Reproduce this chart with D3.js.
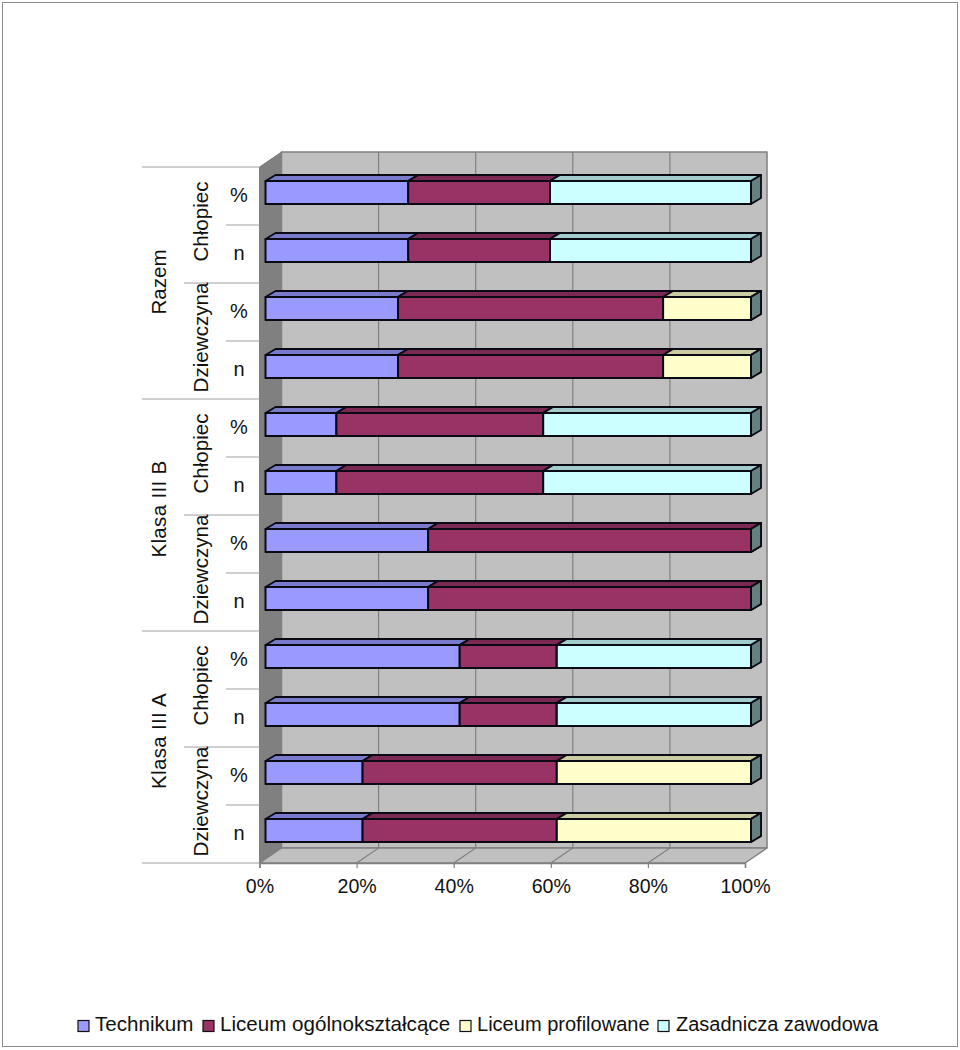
<!DOCTYPE html>
<html><head><meta charset="utf-8">
<style>html,body{margin:0;padding:0;background:#fff}svg{display:block}text{font-family:"Liberation Sans",Arial,sans-serif;fill:#111}</style>
<script src="https://cdn.jsdelivr.net/npm/d3@7/dist/d3.min.js"></script>
</head><body><svg id="c" width="960" height="1050"></svg>
<script>
// rows listed top to bottom
const measures = ["%","n","%","n","%","n","%","n","%","n","%","n"];
const genders = ["Chłopiec","Dziewczyna","Chłopiec","Dziewczyna","Chłopiec","Dziewczyna"];
const classes = ["Razem","Klasa III B","Klasa III A"];
const seriesNames = ["Technikum","Liceum ogólnokształcące","Liceum profilowane","Zasadnicza zawodowa"];
const seriesColors = ["#9999ff","#993366","#ffffcc","#ccffff"];
const topColors = ["#7a7acc","#7a2952","#cccca3","#a3cccc"];
const sideColors = ["#4d4d80","#4d1a33","#808066","#668080"];
const technikum = [29.4,29.4,27.3,27.3,14.6,14.6,33.5,33.5,40,40,20,20];
const liceumOg  = [29.2,29.2,54.6,54.6,42.6,42.6,66.5,66.5,20,20,40,40];
const liceumPr  = [0,0,18.1,18.1,0,0,0,0,0,0,40,40];
const zasadnicza= [41.4,41.4,0,0,42.8,42.8,0,0,40,40,0,0];
const xTicks = [0,20,40,60,80,100];

const svg = d3.select("#c");
const F = 20.6, FT = 19.6;
const plot = {l:259.5,r:745,t:167,b:863,dx:22,dy:-15};
const x = d3.scaleLinear().domain([0,100]).range([plot.l,plot.r]);
const y = d3.scaleBand().domain(d3.range(12)).range([plot.t,plot.b]);
const fmt = d => d+"%";

svg.append("rect").attr("x",2.5).attr("y",2.5).attr("width",955).attr("height",1044).attr("fill","#fff").attr("stroke","#8c8c8c").attr("stroke-width",1);

const poly = (pts,fill,stroke,sw) => svg.append("polygon").attr("points",pts.map(p=>p.join(",")).join(" ")).attr("fill",fill).attr("stroke",stroke).attr("stroke-width",sw).attr("stroke-linejoin","round");
const {l,r,t,b,dx,dy} = plot;
poly([[l+dx,t+dy],[r+dx,t+dy],[r+dx,b+dy],[l+dx,b+dy]],"#c0c0c0","#808080",1.5);
poly([[l,b],[l+dx,b+dy],[r+dx,b+dy],[r,b]],"#c0c0c0","#808080",1.5);
poly([[l,t],[l+dx,t+dy],[l+dx,b+dy],[l,b]],"#808080","#808080",1);

// gridlines
xTicks.slice(1,-1).forEach(v=>{
  svg.append("path").attr("fill","none").attr("stroke","#808080").attr("stroke-width",1.2)
    .attr("d",`M${x(v)},${b}L${x(v)+dx},${b+dy}L${x(v)+dx},${t+dy}`);
});

// x axis
const gx = svg.append("g").attr("transform",`translate(0,${b})`)
  .call(d3.axisBottom(x).tickValues(xTicks).tickFormat(fmt).tickSize(5).tickPadding(11));
gx.select(".domain").attr("stroke","#808080").attr("stroke-width",1.5);
gx.selectAll("line").attr("stroke","#808080").attr("stroke-width",1.2);
gx.selectAll("text").attr("font-size",FT).attr("font-family",'"Liberation Sans"').attr("fill","#111");

// bars
const bd = {dx:10,dy:-6,h:23,shift:-3.5,off:6};
const seriesValues = [technikum,liceumOg,liceumPr,zasadnicza];
d3.range(12).forEach(i=>{
  const cy = y(i)+y.bandwidth()/2+bd.shift, y0=cy-bd.h/2, y1=cy+bd.h/2;
  let cum=0;
  seriesValues.forEach((vals,s)=>{
    const x0=x(cum)+bd.off; cum+=vals[i]; const x1=x(cum)+bd.off;
    poly([[x0,y0],[x0+bd.dx,y0+bd.dy],[x1+bd.dx,y0+bd.dy],[x1,y0]],topColors[s],"#0a0a14",1.8);
    poly([[x1,y0],[x1+bd.dx,y0+bd.dy],[x1+bd.dx,y1+bd.dy],[x1,y1]],sideColors[s],"#0a0a14",1.8);
    poly([[x0,y0],[x1,y0],[x1,y1],[x0,y1]],seriesColors[s],"#0a0a14",2);
  });
});

// hierarchical category axis
const sep = (yy,x0)=>svg.append("line").attr("x1",x0).attr("x2",l).attr("y1",yy).attr("y2",yy).attr("stroke","#a0a0a0").attr("stroke-width",1.2);
d3.range(13).forEach(i=>{
  const yy = i===12? b : y(i);
  sep(yy, i%4===0?142 : i%2===0?184 : 226);
});
measures.forEach((m,i)=>{
  svg.append("text").attr("x",239).attr("y",y(i)+y.bandwidth()/2-1).attr("dy","0.36em").attr("text-anchor","middle").attr("font-size",FT+0.4).text(m);
});
const rot = (label,cx,cy,ls)=>svg.append("text").attr("transform",`translate(${cx},${cy}) rotate(-90)`).attr("dy","0.36em").attr("text-anchor","middle").attr("font-size",F).attr("letter-spacing",ls||0).text(label);
genders.forEach((g,i)=>rot(g,201,y(i*2)+y.bandwidth()-3.5));
classes.forEach((c,i)=>rot(c,159,y(i*4)+y.bandwidth()*2-(i===0?1:6),i===0?0:0.3));

// legend
const legendX=[78,203,460,658], textX=[95,220,477,676], legendF=[F,F,20.05,20];
seriesNames.forEach((n,i)=>{
  svg.append("rect").attr("x",legendX[i]).attr("y",1020.5).attr("width",11).attr("height",11).attr("fill",seriesColors[i]).attr("stroke","#111").attr("stroke-width",1.2);
  svg.append("text").attr("x",textX[i]).attr("y",1031).attr("font-size",legendF[i]).text(n);
});
</script></body></html>
